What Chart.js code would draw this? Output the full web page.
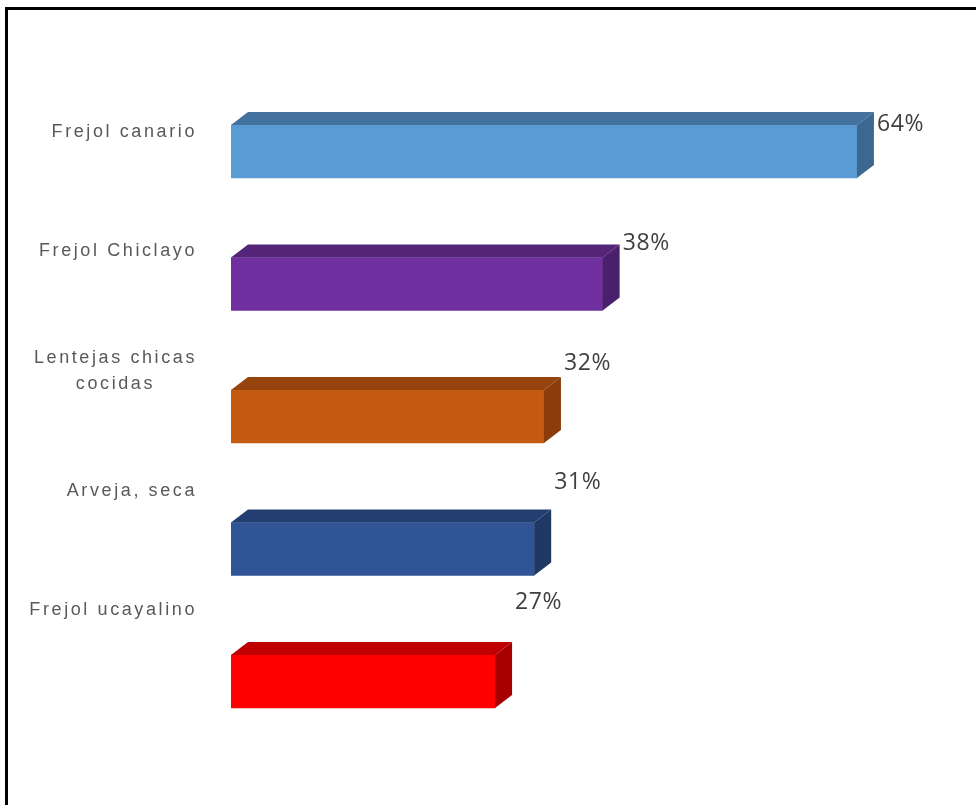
<!DOCTYPE html>
<html>
<head>
<meta charset="utf-8">
<script src="https://cdn.jsdelivr.net/npm/chart.js@4.4.1/dist/chart.umd.min.js"></script>
<style>
  html, body { margin: 0; padding: 0; background: #fff; overflow: hidden; }
  #wrap { position: relative; width: 976px; height: 805px; }
  #frame {
    position: absolute; left: 5px; top: 7px; width: 1100px; height: 1000px;
    border: 3px solid #000; box-sizing: border-box;
  }
  canvas { position: absolute; left: 0; top: 0; }
</style>
</head>
<body>
<div id="wrap">
  <div id="frame"></div>
  <canvas id="legumes" width="976" height="805"></canvas>
</div>
<script>
const products = [
  ["Frejol canario"],
  ["Frejol Chiclayo"],
  ["Lentejas chicas", "cocidas"],
  ["Arveja, seca"],
  ["Frejol ucayalino"],
];
const shares = [64, 38, 32, 31, 27];

const frontColors = ["#5b9bd5", "#7030a0", "#c55a11", "#2f5597", "#ff0000"];
const topColors = ["#44729e", "#532477", "#96430d", "#233f71", "#c00000"];
const sideColors = ["#3c6790", "#4a1f6b", "#8a3d0b", "#1f3864", "#a80000"];

// extrusion of the bars, and label placement
const DEPTH_X = 17;
const DEPTH_Y = 13;
const LABEL_STEP = 0.902;

const bars3d = {
  id: "bars3d",
  afterDatasetsDraw(chart) {
    const ctx = chart.ctx;
    const meta = chart.getDatasetMeta(0);
    ctx.save();
    meta.data.forEach((bar, i) => {
      const top = bar.y - bar.height / 2;
      const bottom = bar.y + bar.height / 2;
      // top face
      ctx.fillStyle = topColors[i];
      ctx.beginPath();
      ctx.moveTo(bar.base, top);
      ctx.lineTo(bar.base + DEPTH_X, top - DEPTH_Y);
      ctx.lineTo(bar.x + DEPTH_X, top - DEPTH_Y);
      ctx.lineTo(bar.x, top);
      ctx.closePath();
      ctx.fill();
      // right side face
      ctx.fillStyle = sideColors[i];
      ctx.beginPath();
      ctx.moveTo(bar.x, top);
      ctx.lineTo(bar.x + DEPTH_X, top - DEPTH_Y);
      ctx.lineTo(bar.x + DEPTH_X, bottom - DEPTH_Y);
      ctx.lineTo(bar.x, bottom);
      ctx.closePath();
      ctx.fill();
    });
    ctx.restore();
  },
  afterDraw(chart) {
    const ctx = chart.ctx;
    const meta = chart.getDatasetMeta(0);
    const y0 = meta.data[0].y;
    ctx.save();
    meta.data.forEach((bar, i) => {
      // category labels sit on a slightly tighter pitch than the bars
      const labelY = y0 - 19.5 + (bar.y - y0) * LABEL_STEP;

      ctx.font = "18px 'Liberation Sans', Arial, sans-serif";
      ctx.letterSpacing = "2.6px";
      ctx.fillStyle = "#595959";
      ctx.textBaseline = "middle";
      const lines = products[i];
      const widths = lines.map(l => ctx.measureText(l).width);
      const blockW = Math.max(...widths);
      const right = 197;
      const lh = 26;
      lines.forEach((line, j) => {
        const ly = labelY + (j - (lines.length - 1) / 2) * lh;
        ctx.textAlign = "center";
        ctx.fillText(line, right - blockW / 2, ly);
      });

      ctx.letterSpacing = "0.6px";
      ctx.font = "23px 'Open Sans', sans-serif";
      ctx.fillStyle = "#404040";
      ctx.textAlign = "left";
      ctx.fillText(shares[i] + "%", bar.x + 20, labelY - 8);
    });
    ctx.restore();
  }
};

new Chart("legumes", {
  type: "bar",
  data: {
    labels: products,
    datasets: [
      {
        data: shares,
        backgroundColor: frontColors,
        borderWidth: 0,
        barThickness: 53,
      },
    ],
  },
  options: {
    indexAxis: "y",
    responsive: false,
    animation: false,
    events: [],
    layout: { padding: { left: 231, right: 60.4, top: 85.25, bottom: 57.25 } },
    scales: {
      x: { display: false, min: 0, max: 70, grid: { display: false } },
      y: { display: false, grid: { display: false } },
    },
    plugins: {
      legend: { display: false },
      tooltip: { enabled: false },
    },
  },
  plugins: [bars3d],
});
</script>
</body>
</html>
